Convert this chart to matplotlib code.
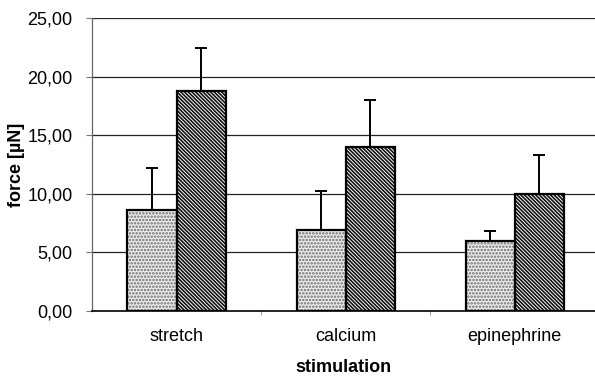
import matplotlib
matplotlib.use("Agg")
import matplotlib.pyplot as plt
import numpy as np

categories = ["stretch", "calcium", "epinephrine"]
light_vals = [8.6, 6.9, 6.0]
light_err = [3.6, 3.35, 0.85]
dark_vals = [18.75, 14.0, 9.95]
dark_err = [3.65, 4.0, 3.4]
yticks = [0, 5, 10, 15, 20, 25]

plt.rcParams['font.family'] = ['Liberation Sans', 'DejaVu Sans']
plt.rcParams['hatch.linewidth'] = 1.2

fig = plt.figure(figsize=(5.95, 3.78), dpi=100)
ax = fig.add_axes([92/595, 1-311/378, 1-92/595, (311-18)/378])

x = np.arange(len(categories))
w = 0.29

# gridlines
for t in yticks[1:]:
    ax.axhline(t, color='#222222', lw=0.9, zorder=0)

# hatch layers
ax.bar(x - w/2, light_vals, w, align='center', color='#eeeeee', edgecolor='#6a6a6a',
       hatch='.....', linewidth=0, zorder=2)
ax.bar(x + w/2, dark_vals, w, align='center', color='white', edgecolor='#111111',
       hatch='\\' * 9, linewidth=0, zorder=2)
# outlines
ax.bar(x - w/2, light_vals, w, fill=False, edgecolor='black', linewidth=1.6, zorder=3)
ax.bar(x + w/2, dark_vals, w, fill=False, edgecolor='black', linewidth=1.6, zorder=3)

# error bars (upper only)
ax.errorbar(x - w/2, light_vals, yerr=[np.zeros(3), light_err], fmt='none',
            ecolor='black', elinewidth=1.4, capsize=4.5, capthick=1.4, zorder=1)
ax.errorbar(x + w/2, dark_vals, yerr=[np.zeros(3), dark_err], fmt='none',
            ecolor='black', elinewidth=1.4, capsize=4.5, capthick=1.4, zorder=1)

ax.set_xlim(-0.5, 2.476)
ax.set_ylim(0, 25)
ax.set_yticks(yticks)
ax.set_yticklabels([f"{t:.2f}".replace('.', ',') for t in yticks], fontsize=13)
ax.set_xticks(x)
ax.set_xticklabels(categories, fontsize=13)
ax.set_xticks([0.5, 1.5], minor=True)
ax.tick_params(axis='x', which='major', length=0, pad=12)
ax.tick_params(axis='x', which='minor', length=3, color='#888888', direction='out')
ax.tick_params(axis='y', length=4, pad=10, color='#777777')

for s in ['top', 'right']:
    ax.spines[s].set_visible(False)
ax.spines['left'].set_color('#666666')
ax.spines['left'].set_linewidth(0.9)
ax.spines['bottom'].set_color('black')
ax.spines['bottom'].set_linewidth(1.2)

ax.set_xlabel("stimulation", fontsize=13, fontweight='bold', labelpad=10)
ax.set_ylabel("force [µN]", fontsize=13, fontweight='bold', labelpad=2)

fig.savefig("out.png", dpi=100)
